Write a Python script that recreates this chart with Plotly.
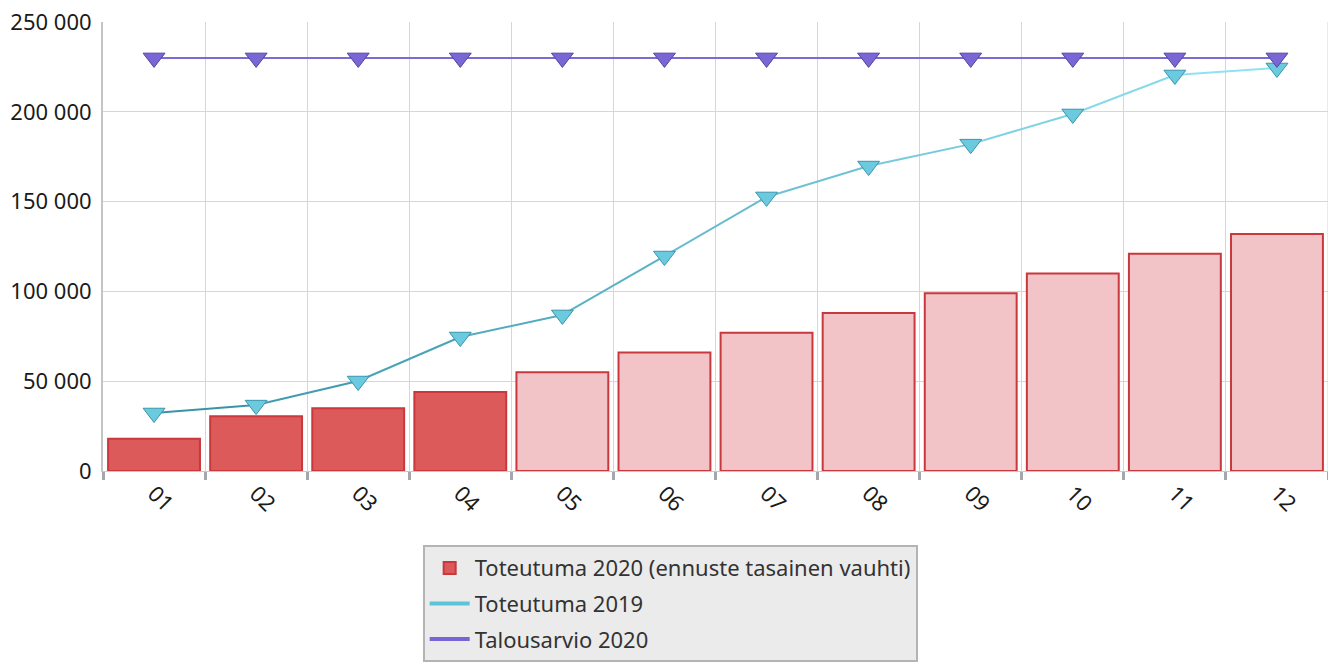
import plotly.graph_objects as go

months = ["01", "02", "03", "04", "05", "06", "07", "08", "09", "10", "11", "12"]
toteutuma_2020 = [18000, 30500, 35000, 44000, 55000, 66000, 77000, 88000, 99000, 110000, 121000, 132000]
is_forecast = [False, False, False, False, True, True, True, True, True, True, True, True]
toteutuma_2019 = [32300, 36700, 50100, 74600, 86900, 119700, 152600, 169800, 182000, 198800, 220500, 224400]
talousarvio_2020 = [230000] * 12

name_bar = "Toteutuma 2020 (ennuste tasainen vauhti)"
name_2019 = "Toteutuma 2019"
name_budget = "Talousarvio 2020"

FONT = "Noto Sans"
FS_TICK = 22
FS_LEG = 22

fig = go.Figure()

bar_colors = ["#f3c4c7" if f else "#dc5a5a" for f in is_forecast]
fig.add_trace(go.Bar(
    x=months, y=toteutuma_2020, name=name_bar,
    marker=dict(color=bar_colors, line=dict(color="#c8383c", width=2)),
    legendgroup="a",
))


def lerp(c1, c2, t):
    a = [int(c1[i:i + 2], 16) for i in (1, 3, 5)]
    b = [int(c2[i:i + 2], 16) for i in (1, 3, 5)]
    return "#" + "".join(f"{round(a[k] + (b[k] - a[k]) * t):02x}" for k in range(3))


n = len(months)
for i in range(n - 1):
    fig.add_trace(go.Scatter(
        x=months[i:i + 2], y=toteutuma_2019[i:i + 2], mode="lines",
        line=dict(color=lerp("#3a93a8", "#90e2f2", i / (n - 2)), width=2),
        showlegend=False, hoverinfo="skip",
    ))
fig.add_trace(go.Scatter(
    x=months, y=toteutuma_2019, mode="markers", showlegend=False,
    marker=dict(symbol="triangle-down", size=19, color="#6ccadf",
                line=dict(color="#3a95ad", width=1)),
))
fig.add_trace(go.Scatter(
    x=[None], y=[None], mode="lines", name=name_2019,
    line=dict(color="#5cc3d9", width=4), legendgroup="b",
))

fig.add_trace(go.Scatter(
    x=months, y=talousarvio_2020, mode="lines", showlegend=False,
    line=dict(color="#7b6bd6", width=2),
))
fig.add_trace(go.Scatter(
    x=months, y=talousarvio_2020, mode="markers", showlegend=False,
    marker=dict(symbol="triangle-down", size=19, color="#7a66d4",
                line=dict(color="#54459e", width=1)),
))
fig.add_trace(go.Scatter(
    x=[None], y=[None], mode="lines", name=name_budget,
    line=dict(color="#7566d4", width=4), legendgroup="c",
))

fig.update_layout(
    width=1328, height=655,
    margin=dict(l=95, r=8, t=14, b=192, autoexpand=False),
    paper_bgcolor="white", plot_bgcolor="white",
    font=dict(family=FONT, size=FS_TICK, color="#1a1a1a"),
    separators=", ",
    bargap=0.1,
    showlegend=True,
    legend=dict(
        orientation="v", x=0.463, xanchor="center", y=-0.165, yanchor="top",
        bgcolor="#ebebeb", bordercolor="#b4b4b4", borderwidth=2,
        font=dict(family=FONT, size=FS_LEG, color="#333333"),
        traceorder="grouped", tracegroupgap=4, itemwidth=40,
    ),
)
fig.update_xaxes(
    type="category", range=[-0.5, len(months) - 0.5],
    tickson="boundaries", tickangle=45, automargin=False,
    showgrid=True, gridcolor="#d6d6d6", gridwidth=1,
    ticks="outside", ticklen=8, tickwidth=3, tickcolor="#a4a8ac",
    showline=True, linecolor="#c8c8c8", linewidth=1,
    tickfont=dict(family=FONT, size=FS_TICK, color="#1a1a1a"),
)
fig.update_yaxes(
    range=[0, 250000], dtick=50000, tickformat=",d", automargin=False,
    showgrid=True, gridcolor="#d6d6d6", gridwidth=1,
    showline=True, linecolor="#c4c4c4", linewidth=2,
    zeroline=False, ticks="", ticklen=0, ticklabelstandoff=5,
    ticklabeloverflow="allow",
    tickfont=dict(family=FONT, size=FS_TICK, color="#1a1a1a"),
)
fig.add_shape(type="line", xref="paper", yref="paper", x0=1, x1=1, y0=0, y1=1,
              line=dict(color="#d6d6d6", width=1))

fig.write_html("out.html")
